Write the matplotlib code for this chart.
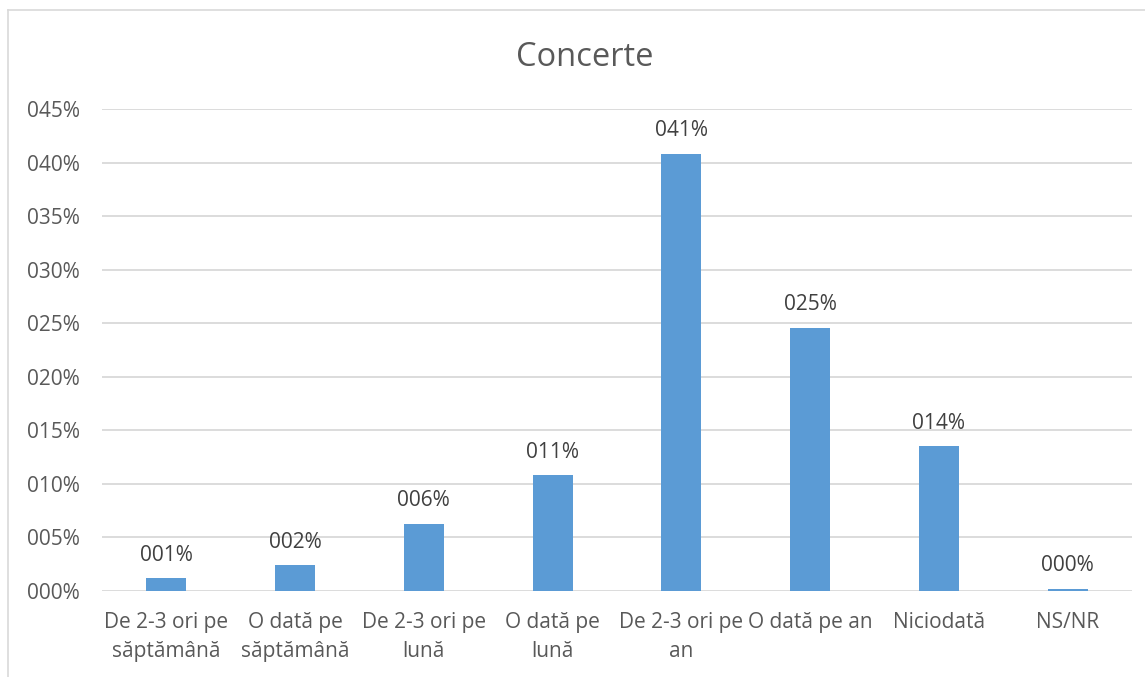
import matplotlib
matplotlib.use("Agg")
import matplotlib.pyplot as plt
from matplotlib.lines import Line2D

plt.rcParams['font.family'] = ['Open Sans', 'DejaVu Sans']

categories = ["De 2-3 ori pe\nsăptămână", "O dată pe\nsăptămână", "De 2-3 ori pe\nlună",
              "O dată pe\nlună", "De 2-3 ori pe\nan", "O dată pe an", "Niciodată", "NS/NR"]
values = [1.2, 2.4, 6.3, 10.8, 40.8, 24.6, 13.5, 0.2]
yticks = [0, 5, 10, 15, 20, 25, 30, 35, 40, 45]
ytick_labels = ["000%", "005%", "010%", "015%", "020%", "025%", "030%", "035%", "040%", "045%"]
title = "Concerte"

W, H = 1145, 677
fig = plt.figure(figsize=(W / 100, H / 100), dpi=100)
ax = fig.add_axes([102 / W, 1 - 591 / H, (1132 - 102) / W, (591 - 109) / H])

txt = "#595959"
x = list(range(len(categories)))
ax.bar(x, values, width=0.31, color="#5B9BD5", zorder=3)
for xi, v in zip(x, values):
    ax.annotate(f"{v:03.0f}%", (xi, v), xytext=(0, 9), textcoords="offset points",
                ha="center", va="bottom", fontsize=15, color="#404040")

ax.set_xlim(-0.5, len(categories) - 0.5)
ax.set_ylim(0, 45)
ax.set_yticks(yticks)
ax.set_yticklabels(ytick_labels, fontsize=15, color=txt)
ax.set_xticks(x)
ax.set_xticklabels(categories, fontsize=15, color=txt, linespacing=1.5)
ax.tick_params(axis="both", length=0)
ax.tick_params(axis="y", pad=16)
ax.tick_params(axis="x", pad=15)
ax.yaxis.grid(True, color="#D9D9D9", linewidth=1.3, zorder=0)
for s in ax.spines.values():
    s.set_visible(False)

fig.text(585 / W, 1 - 57 / H, title, ha="center", va="center", fontsize=23.5, color=txt)

# outer chart frame (top and left edges visible)
fig.add_artist(Line2D([8 / W, 1.0], [1 - 10 / H, 1 - 10 / H], color="#D9D9D9", linewidth=1.2,
                      transform=fig.transFigure))
fig.add_artist(Line2D([8 / W, 8 / W], [1 - 10 / H, 0], color="#D9D9D9", linewidth=1.2,
                      transform=fig.transFigure))

fig.savefig("out.png", dpi=100, facecolor="white")
